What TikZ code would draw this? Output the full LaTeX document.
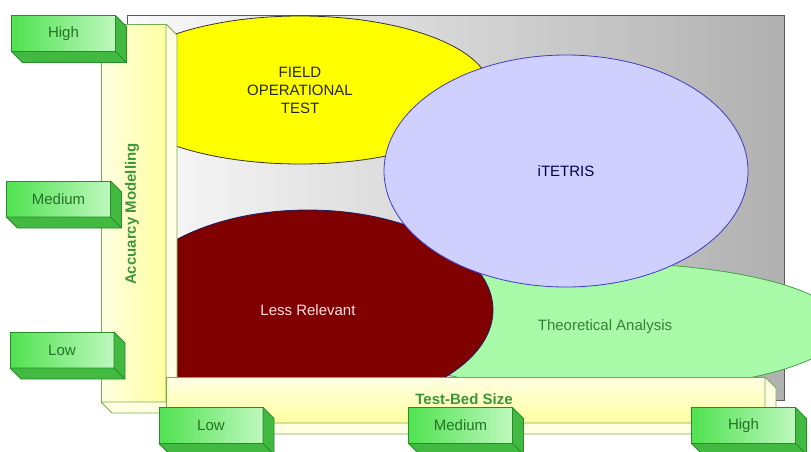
\documentclass[tikz,border=0pt]{standalone}
\usepackage{fontspec}
\setmainfont{Liberation Sans}
\usetikzlibrary{shapes.geometric}

\definecolor{bgline}{RGB}{90,90,90}
\definecolor{bgleft}{RGB}{250,250,250}
\definecolor{bgright}{RGB}{176,176,176}
\definecolor{fotyellow}{RGB}{255,255,0}
\definecolor{barline}{RGB}{120,170,80}
\definecolor{baryellow}{RGB}{255,255,160}
\definecolor{barpale}{RGB}{255,255,226}
\definecolor{boxgreen}{RGB}{80,226,80}
\definecolor{boxglow}{RGB}{190,248,190}
\definecolor{boxside}{RGB}{66,186,66}
\definecolor{boxedge}{RGB}{40,140,40}
\definecolor{boxtext}{RGB}{35,115,35}
\definecolor{axistext}{RGB}{60,150,60}
\definecolor{itetrisfill}{RGB}{208,208,255}
\definecolor{itetrisline}{RGB}{60,60,200}
\definecolor{lessred}{RGB}{128,0,0}
\definecolor{theofill}{RGB}{168,250,168}
\definecolor{theoline}{RGB}{70,160,70}

% side and bottom faces of a raised block, pushed 11pt down-right
\newcommand{\raisedfaces}[3]{%
  \filldraw[fill=#2, draw=#3, line width=0.8pt, line join=round]
    (#1.north east) -- ++(11,11)
    -- ([shift={(11,11)}]#1.south east) -- ([shift={(11,11)}]#1.south west)
    -- (#1.south west) -- (#1.south east) -- cycle;
  \draw[#3, line width=0.8pt] (#1.south east) -- ++(11,11);
}

\begin{document}
\begin{tikzpicture}[
    x=1pt, y=-1pt,
    region/.style={ellipse, inner sep=0pt, outer sep=0pt, align=center, line width=0.8pt, font=\fontsize{15}{18}\selectfont},
    bar/.style={rectangle, draw=barline, line width=0.8pt, inner sep=0pt, outer sep=0pt},
    level/.style={rectangle, draw=boxedge, left color=boxgreen, right color=boxglow, line width=0.8pt,
        inner sep=0pt, outer sep=0pt, minimum width=104, minimum height=36,
        text=boxtext, font=\fontsize{15}{18}\selectfont},
    axislabel/.style={text=axistext, font=\fontsize{15}{18}\selectfont\bfseries}
]
\path[use as bounding box] (0,0) rectangle (811,451);
\clip (0,0) rectangle (811,451);

% Background plane
\node[rectangle, draw=bgline, left color=bgleft, right color=bgright, line width=0.8pt,
    minimum width=657, minimum height=385, inner sep=0pt, outer sep=0pt] (plane) at (455.5,207.5) {};

% Regions
\node[region, fill=fotyellow, draw=black!80, minimum width=380, minimum height=148, text=black!85]
    (fot) at (300,90) {FIELD\\OPERATIONAL\\TEST};
\node[region, fill=theofill, draw=theoline, minimum width=476, minimum height=128, text=theoline!80!black]
    (theory) at (605,327) {Theoretical Analysis};
\node[region, fill=lessred, draw=itetrisline!50!black, minimum width=370, minimum height=200, text=red!12!white]
    (less) at (308,310) {Less Relevant};
\node[region, fill=itetrisfill, draw=itetrisline, minimum width=364, minimum height=232, text=blue!30!black]
    (itetris) at (566,171) {iTETRIS};

% Axis bars
\node[bar, minimum width=65, minimum height=378, left color=barpale, right color=baryellow] (ybar) at (133.5,213) {};
\raisedfaces{ybar}{barpale}{barline}
\node[bar, minimum width=599, minimum height=46, top color=barpale, bottom color=baryellow] (xbar) at (465.5,400) {};
\raisedfaces{xbar}{barpale}{barline}

\node[axislabel, rotate=90] (ylabel) at (132,214) {Accuarcy Modelling};
\node[axislabel] (xlabel) at (464,399) {Test-Bed Size};

% Level blocks, vertical axis
\node[level] (yhigh) at (63.5,33.5) {High};
\raisedfaces{yhigh}{boxside}{boxedge}
\node[level] (ymed) at (58.5,199) {Medium};
\raisedfaces{ymed}{boxside}{boxedge}
\node[level] (ylow) at (62,350) {Low};
\raisedfaces{ylow}{boxside}{boxedge}

% Level blocks, horizontal axis
\node[level] (xlow) at (211,425.5) {Low};
\raisedfaces{xlow}{boxside}{boxedge}
\node[level] (xmed) at (460.5,425.5) {Medium};
\raisedfaces{xmed}{boxside}{boxedge}
\node[level] (xhigh) at (743.5,425.5) {High};
\raisedfaces{xhigh}{boxside}{boxedge}

\end{tikzpicture}
\end{document}
